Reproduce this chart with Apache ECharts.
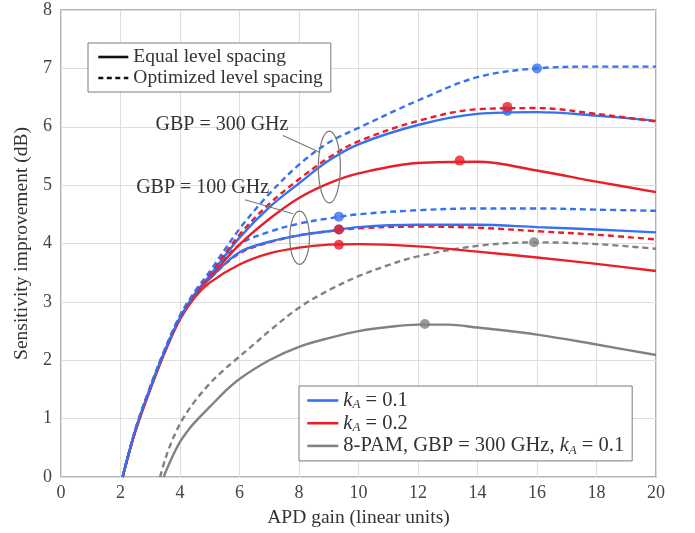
<!DOCTYPE html>
<html>
<head>
<meta charset="utf-8">
<script src="https://cdn.jsdelivr.net/npm/echarts@6/dist/echarts.min.js"></script>
<style>
  html, body { margin: 0; padding: 0; background: #fff; }
  #chart { width: 695px; height: 533px; }
</style>
</head>
<body>
<div id="chart"></div>
<script>
// APD gain samples shared by the PAM-4 curves
const gainX = [2.07, 2.5, 3, 3.5, 4, 4.5, 5, 6, 7, 8, 9, 10, 12, 14, 16, 18, 20];
// GBP = 300 GHz
const blueDash300 = [0, 0.82, 1.55, 2.2, 2.77, 3.18, 3.52, 4.25, 4.85, 5.35, 5.73, 5.98, 6.45, 6.85, 7.0, 7.03, 7.03];
const redDash300 = [0, 0.8, 1.53, 2.18, 2.74, 3.15, 3.47, 4.15, 4.68, 5.1, 5.47, 5.75, 6.1, 6.3, 6.32, 6.22, 6.09];
const blueSolid300 = [0, 0.8, 1.52, 2.17, 2.73, 3.14, 3.45, 4.1, 4.62, 5.03, 5.42, 5.7, 6.03, 6.22, 6.25, 6.19, 6.1];
const redSolid300 = [0, 0.79, 1.51, 2.16, 2.72, 3.12, 3.42, 3.98, 4.42, 4.78, 5.03, 5.2, 5.38, 5.4, 5.25, 5.06, 4.88];
// GBP = 100 GHz
const blueDash100 = [0, 0.81, 1.54, 2.19, 2.75, 3.15, 3.45, 3.98, 4.2, 4.34, 4.43, 4.5, 4.57, 4.6, 4.6, 4.58, 4.56];
const blueSolid100 = [0, 0.8, 1.52, 2.17, 2.72, 3.12, 3.4, 3.85, 4.03, 4.14, 4.21, 4.28, 4.32, 4.32, 4.28, 4.24, 4.19];
const redDash100 = [0, 0.8, 1.52, 2.17, 2.72, 3.12, 3.4, 3.83, 4.02, 4.14, 4.21, 4.26, 4.29, 4.27, 4.21, 4.15, 4.07];
const redSolid100 = [0, 0.78, 1.5, 2.15, 2.7, 3.08, 3.33, 3.64, 3.83, 3.93, 3.98, 3.99, 3.95, 3.86, 3.76, 3.65, 3.53];
// 8-PAM, GBP = 300 GHz, kA = 0.1
const pamDashX = [3.33, 3.5, 3.7, 3.9, 4.1, 4.5, 5, 5.4, 5.85, 6.5, 7, 8, 9, 10, 11, 12, 14, 16, 18, 20];
const pamDashY = [0, 0.3, 0.58, 0.81, 1.0, 1.3, 1.6, 1.8, 2.0, 2.28, 2.5, 2.9, 3.2, 3.44, 3.63, 3.78, 3.96, 4.02, 3.99, 3.91];
const pamSolidX = [3.45, 3.7, 4, 4.3, 4.67, 5, 5.5, 6, 7, 8, 9, 10, 11, 12, 13, 14, 16, 18, 20];
const pamSolidY = [0, 0.3, 0.6, 0.82, 1.03, 1.2, 1.46, 1.68, 2.0, 2.23, 2.38, 2.5, 2.57, 2.61, 2.61, 2.56, 2.44, 2.27, 2.09];
// optimum points (dots)
const peakX = [16, 15, 15, 13.4, 9.34, 9.34, 9.34, 9.34, 15.9, 12.23];
const peakY = [7.0, 6.27, 6.34, 5.42, 4.46, 4.24, 4.24, 3.98, 4.02, 2.62];
const peakKind = ['blue', 'blue', 'red', 'red', 'blue', 'blue', 'red', 'red', 'gray', 'gray'];

const xTicks = [0, 2, 4, 6, 8, 10, 12, 14, 16, 18, 20];
const yTicks = [0, 1, 2, 3, 4, 5, 6, 7, 8];

const colors = { blue: '#3572f0', red: '#ea1e26', gray: '#828282' };
const FONT = 'Liberation Serif';

function pairs(xs, ys) {
  return xs.map((x, i) => [x, ys[i]]);
}

function curve(name, xs, ys, color, dashed) {
  return {
    name: name,
    type: 'line',
    data: pairs(xs, ys),
    smooth: 0.35,
    symbol: 'none',
    silent: true,
    lineStyle: { color: color, width: 2.4, type: dashed ? [6, 4] : 'solid' },
    itemStyle: { color: color }
  };
}

// empty series, only for the legends (symbol hidden, line kept)
function legendOnly(name, color, dashed) {
  return {
    name: name,
    type: 'line',
    data: [],
    symbol: 'none',
    lineStyle: { color: color, width: 2.6, type: dashed ? [5, 3.5] : 'solid' },
    itemStyle: { color: color, opacity: 0 }
  };
}

const chart = echarts.init(document.getElementById('chart'), null, { renderer: 'canvas' });

const series = [
  curve('pamSolid', pamSolidX, pamSolidY, colors.gray, false),
  curve('pamDash', pamDashX, pamDashY, colors.gray, true),
  curve('rs100', gainX, redSolid100, colors.red, false),
  curve('rd100', gainX, redDash100, colors.red, true),
  curve('bs100', gainX, blueSolid100, colors.blue, false),
  curve('bd100', gainX, blueDash100, colors.blue, true),
  curve('rs300', gainX, redSolid300, colors.red, false),
  curve('bs300', gainX, blueSolid300, colors.blue, false),
  curve('rd300', gainX, redDash300, colors.red, true),
  curve('bd300', gainX, blueDash300, colors.blue, true),
  {
    name: 'peaks',
    type: 'scatter',
    silent: true,
    symbolSize: 10,
    z: 5,
    data: peakX.map((x, i) => ({ value: [x, peakY[i]], itemStyle: { color: colors[peakKind[i]] } }))
  },
  legendOnly('Equal level spacing', '#111', false),
  legendOnly('Optimized level spacing', '#111', true),
  legendOnly('kA1', colors.blue, false),
  legendOnly('kA2', colors.red, false),
  legendOnly('pam', colors.gray, false)
];

const legendNames = {
  kA1: '{k|k}{s|A}{t| = 0.1}',
  kA2: '{k|k}{s|A}{t| = 0.2}',
  pam: '{t|8-PAM, GBP = 300 GHz, }{k|k}{s|A}{t| = 0.1}'
};
const richText = {
  t: { fontFamily: FONT, fontSize: 20.5, color: '#333', lineHeight: 22.5 },
  k: { fontFamily: FONT, fontSize: 20.5, fontStyle: 'italic', color: '#333', lineHeight: 22.5 },
  s: { fontFamily: FONT, fontSize: 13, fontStyle: 'italic', color: '#333', padding: [9, 0, 0, 0] }
};

const option = {
  animation: false,
  backgroundColor: '#fff',
  grid: {
    left: 61, right: 39, top: 10, bottom: 55,
    show: true, borderColor: '#9a9a9a', borderWidth: 1.5, backgroundColor: 'transparent'
  },
  xAxis: {
    type: 'value',
    min: 0, max: 20, interval: 2,
    name: 'APD gain (linear units)',
    nameLocation: 'middle',
    nameGap: 31,
    nameTextStyle: { fontFamily: FONT, fontSize: 19.5, color: '#333' },
    axisLine: { show: false },
    axisTick: { show: false },
    axisLabel: {
      fontFamily: FONT, fontSize: 18, color: '#444', margin: 7,
      formatter: v => (xTicks.indexOf(v) >= 0 ? String(v) : '')
    },
    splitLine: { show: true, lineStyle: { color: '#dedede', width: 1 } }
  },
  yAxis: {
    type: 'value',
    min: 0, max: 8, interval: 1,
    name: 'Sensitivity improvement (dB)',
    nameLocation: 'middle',
    nameGap: 26,
    nameTextStyle: { fontFamily: FONT, fontSize: 19.5, color: '#333' },
    axisLine: { show: false },
    axisTick: { show: false },
    axisLabel: {
      fontFamily: FONT, fontSize: 18, color: '#444', margin: 9,
      formatter: v => (yTicks.indexOf(v) >= 0 ? String(v) : '')
    },
    splitLine: { show: true, lineStyle: { color: '#dedede', width: 1 } }
  },
  legend: [
    {
      orient: 'vertical',
      left: 88, top: 43,
      data: ['Equal level spacing', 'Optimized level spacing'],
      selectedMode: false,
      backgroundColor: '#fff',
      borderColor: '#7a7a7a', borderWidth: 1,
      padding: [4, 8, 4, 9],
      itemWidth: 30, itemHeight: 14, itemGap: 1,
      lineStyle: { width: 2.6 },
      textStyle: { fontFamily: FONT, fontSize: 19.5, color: '#333', lineHeight: 20 }
    },
    {
      orient: 'vertical',
      left: 299, top: 386,
      data: ['kA1', 'kA2', 'pam'],
      selectedMode: false,
      backgroundColor: '#fff',
      borderColor: '#7a7a7a', borderWidth: 1,
      padding: [4, 8, 4, 7],
      itemWidth: 31, itemHeight: 14, itemGap: 1.2,
      lineStyle: { width: 2.6 },
      formatter: name => legendNames[name],
      textStyle: { rich: richText }
    }
  ],
  series: series
};

chart.setOption(option);

// annotations placed in data coordinates
function px(x, y) {
  return chart.convertToPixel({ gridIndex: 0 }, [x, y]);
}
function ellipse(cx, cy, rxData, ryData) {
  const c = px(cx, cy);
  const e = px(cx + rxData, cy + ryData);
  return {
    type: 'ellipse',
    shape: { cx: c[0], cy: c[1], rx: Math.abs(e[0] - c[0]), ry: Math.abs(e[1] - c[1]) },
    style: { fill: null, stroke: '#777', lineWidth: 1.2 },
    z: 20
  };
}
function leader(x1, y1, x2, y2) {
  const a = px(x1, y1), b = px(x2, y2);
  return {
    type: 'line',
    shape: { x1: a[0], y1: a[1], x2: b[0], y2: b[1] },
    style: { stroke: '#777', lineWidth: 1.1 },
    z: 20
  };
}
function label(text, x, y) {
  const p = px(x, y);
  return {
    type: 'text',
    x: p[0], y: p[1],
    style: {
      text: text, fill: '#333', font: '20px "' + FONT + '"',
      align: 'center', verticalAlign: 'middle'
    },
    z: 20
  };
}

chart.setOption({
  graphic: [
    label('GBP = 300 GHz', 5.41, 6.03),
    label('GBP = 100 GHz', 4.76, 4.96),
    leader(7.46, 5.85, 8.71, 5.56),
    leader(6.18, 4.75, 7.8, 4.51),
    ellipse(9.02, 5.31, 0.37, 0.615),
    ellipse(8.02, 4.1, 0.33, 0.456)
  ]
});
</script>
</body>
</html>
